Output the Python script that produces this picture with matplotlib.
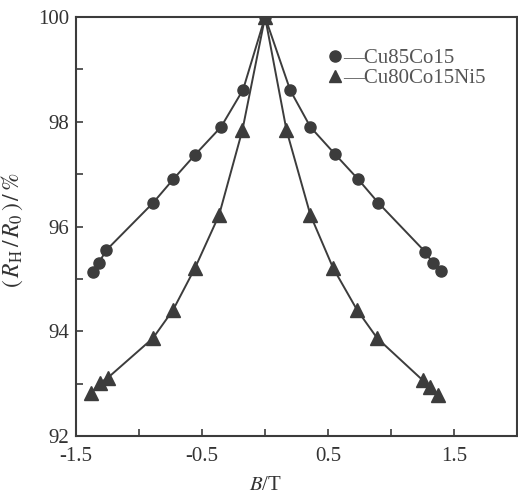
import matplotlib
matplotlib.use("Agg")
import matplotlib.pyplot as plt
from matplotlib.lines import Line2D

# Cu85Co15 (circles)
b_cu85 = [-1.37, -1.32, -1.26, -0.89, -0.73, -0.556, -0.35, -0.175, 0.0,
          0.2, 0.36, 0.556, 0.74, 0.9, 1.27, 1.33, 1.40]
r_cu85 = [95.13, 95.31, 95.55, 96.45, 96.90, 97.37, 97.90, 98.61, 100.0,
          98.60, 97.90, 97.38, 96.90, 96.45, 95.52, 95.31, 95.15]

# Cu80Co15Ni5 (triangles)
b_cu80 = [-1.38, -1.31, -1.25, -0.89, -0.73, -0.556, -0.365, -0.18, 0.0,
          0.17, 0.36, 0.54, 0.73, 0.89, 1.25, 1.31, 1.37]
r_cu80 = [92.82, 93.02, 93.11, 93.87, 94.41, 95.21, 96.22, 97.84, 100.0,
          97.84, 96.22, 95.21, 94.41, 93.87, 93.07, 92.94, 92.79]

x_ticks = [-1.5, -1.0, -0.5, 0.0, 0.5, 1.0, 1.5]
x_labels = ["-1.5", "", "-0.5", "", "0.5", "", "1.5"]
y_ticks = [92, 94, 96, 98, 100]

plt.rcParams['font.family'] = ['Liberation Serif', 'DejaVu Serif']
plt.rcParams['mathtext.fontset'] = 'stix'

col = '#3c3c3c'
fig = plt.figure(figsize=(5.18, 4.99), dpi=100)
ax = fig.add_axes([0.147, 0.126, 0.851, 0.840])

ax.plot(b_cu85, r_cu85, '-', color=col, lw=1.4, marker='o', ms=8)
ax.plot(b_cu80, r_cu80, '-', color=col, lw=1.4, marker='^', ms=9.5)

ax.set_xlim(-1.5, 2.0)
ax.set_ylim(92, 100)
ax.set_xticks(x_ticks)
ax.set_xticklabels(x_labels)
ax.set_yticks(y_ticks)
ax.set_yticks([93, 95, 97, 99], minor=True)
ax.tick_params(which='both', direction='in', length=5, width=1.2, color=col,
               labelsize=15, labelcolor='#333333')
ax.tick_params(axis='x', pad=8)
ax.tick_params(axis='y', pad=5)

for s in ax.spines.values():
    s.set_color(col)
    s.set_linewidth(1.5)

ax.set_xlabel('$B$/T', fontsize=15, color='#333333')
ax.xaxis.set_label_coords(0.43, -0.095)
ax.set_ylabel(r'$(\,R_\mathrm{H}\,/\,R_0\,)\,/\,\%$', fontsize=17, color='#333333')
ax.yaxis.set_label_coords(-0.115, 0.49)

handles = [Line2D([], [], color=col, marker='o', ls='none', ms=8),
           Line2D([], [], color=col, marker='^', ls='none', ms=8)]
ax.legend(handles, ['\u2014Cu85Co15', '\u2014Cu80Co15Ni5'], loc='upper left',
          bbox_to_anchor=(0.53, 0.97), frameon=False, fontsize=15,
          handlelength=0.6, handletextpad=0.1, labelspacing=0.05,
          labelcolor='#555555')

fig.savefig('out.png', dpi=100)
